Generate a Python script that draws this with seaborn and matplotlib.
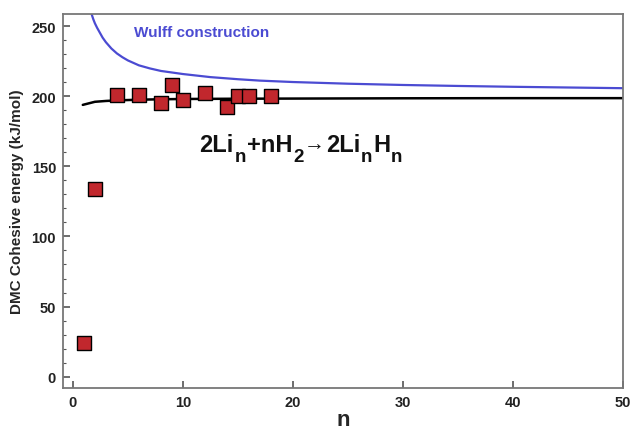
import matplotlib
matplotlib.use("Agg")
import matplotlib.pyplot as plt
import seaborn as sns
import pandas as pd
from matplotlib.ticker import MultipleLocator
from matplotlib.transforms import IdentityTransform

# data
n_dmc = [1, 2, 4, 6, 8, 9, 10, 12, 14, 15, 16, 18]
e_dmc = [24, 134, 201, 201, 195, 208, 197, 202, 192, 200, 200, 200]

n_fit = [0.9, 1.5, 2, 3, 4, 6, 8, 10, 15, 20, 30, 40, 50]
e_fit = [193.8, 195.0, 196.0, 196.6, 197.0, 197.5, 197.8, 198.0, 198.2, 198.3, 198.5, 198.6, 198.6]

n_wulff = [1.7, 1.85, 2, 2.2, 2.4, 2.7, 3, 3.5, 4, 4.5, 5, 6, 7, 8, 10, 12.5, 15, 17, 20,
           25, 30, 35, 40, 45, 50]
e_wulff = [258.6, 255, 252, 248.8, 246, 241.8, 238.5, 234, 230.5, 227.8, 225.5, 222, 219.8,
           218, 215.8, 213.6, 212.1, 211.1, 210.1, 208.9, 208, 207.3, 206.7, 206.2, 205.7]

x_ticks = [0, 10, 20, 30, 40, 50]
y_ticks = [0, 50, 100, 150, 200, 250]

reaction_parts = [("2Li", False), ("n", True), ("+nH", False), ("2", True), ("\u2192", False),
                  ("2Li", False), ("n", True), ("H", False), ("n", True)]

sns.set_style("ticks")
plt.rcParams['font.family'] = ['Liberation Sans', 'DejaVu Sans']

fig = plt.figure(figsize=(6.31, 4.35), dpi=100)
ax = fig.add_axes([0.0998, 0.106, 0.8875, 0.8595])

df_w = pd.DataFrame({"n": n_wulff, "E": e_wulff})
df_f = pd.DataFrame({"n": n_fit, "E": e_fit})
df_d = pd.DataFrame({"n": n_dmc, "E": e_dmc})

sns.lineplot(data=df_w, x="n", y="E", ax=ax, color="#4b4bd2", linewidth=1.6, zorder=2)
sns.lineplot(data=df_f, x="n", y="E", ax=ax, color="black", linewidth=1.8, zorder=2)
sns.scatterplot(data=df_d, x="n", y="E", ax=ax, marker="s", s=110, color="#c1272d",
                edgecolor="black", linewidth=1.0, zorder=3)

ax.set_xlim(-0.9, 50)
ax.set_ylim(-8, 258.6)
ax.set_xticks(x_ticks)
ax.set_yticks(y_ticks)
ax.yaxis.set_minor_locator(MultipleLocator(10))
ax.tick_params(which="both", direction="in", top=False, right=False, colors="#555555",
               labelcolor="#222222")
ax.tick_params(which="major", length=5, width=1.2, labelsize=10.5, pad=5)
ax.tick_params(which="minor", length=2.5, width=0.8)
for lab in ax.get_xticklabels() + ax.get_yticklabels():
    lab.set_fontweight("bold")
for sp in ax.spines.values():
    sp.set_visible(True)
    sp.set_color("#777777")
    sp.set_linewidth(1.3)

ax.set_xlabel("n", fontsize=16, fontweight="bold", labelpad=0)
ax.set_ylabel("DMC Cohesive energy (kJ/mol)", fontsize=11, fontweight="bold", labelpad=5)

ax.text(5.6, 246, "Wulff construction", color="#4b4bd2", fontsize=11,
        fontweight="bold", va="center", ha="left")

# reaction text assembled piece by piece (subscripts large and lowered)
fig.canvas.draw()
renderer = fig.canvas.get_renderer()
x0, y0 = ax.transData.transform((11.5, 161))
xcur = x0
for txt, sub in reaction_parts:
    size = 13.5 if sub else 17
    dy = -10 if sub else 0
    if txt == "\u2192":
        size = 15
        dy = 2
    t = fig.text(xcur, y0 + dy, txt, transform=IdentityTransform(), fontsize=size,
                 fontweight="bold", color="#111111", ha="left", va="baseline")
    bb = t.get_window_extent(renderer=renderer)
    xcur = bb.x1 + 0.8

fig.savefig("out.png", dpi=100)
